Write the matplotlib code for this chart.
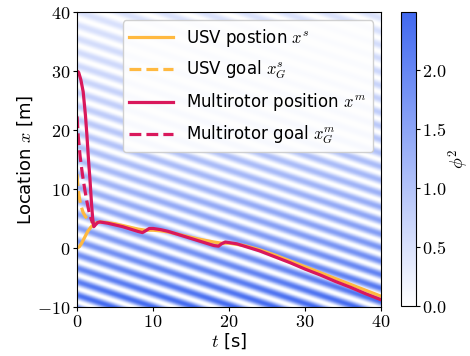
import numpy as np
import matplotlib.pyplot as plt
from matplotlib.colors import LinearSegmentedColormap

plt.rcParams['mathtext.fontset'] = 'cm'
plt.rcParams['font.family'] = ['DejaVu Sans']

# multirotor position
t_mr = [0, 0.2, 0.5, 0.8, 1.1, 1.3, 1.5, 1.7, 1.9, 2.05, 2.2, 2.4, 2.7, 3.0, 4, 5, 6, 7, 8,
        8.6, 9.0, 9.5, 10, 11, 12, 13, 14, 15, 16, 17, 18, 18.6, 19.0, 19.5, 20, 21, 22,
        24, 26, 28, 30, 32, 34, 36, 38, 40]
x_mr = [30, 29.8, 28.5, 26.5, 22.5, 19, 15, 11.5, 7.5, 5, 3.6, 3.9, 4.3, 4.4, 4.2, 3.9, 3.6, 3.2, 2.8,
        2.6, 2.9, 3.3, 3.3, 3.1, 2.8, 2.4, 2.0, 1.6, 1.2, 0.8, 0.4, 0.3, 0.7, 1.0, 0.9, 0.7, 0.3,
        -0.5, -1.5, -2.5, -3.6, -4.6, -5.7, -6.7, -7.8, -8.8]
# multirotor goal
t_mr_goal = [0, 0.15, 0.4, 0.7, 1.0, 1.3, 1.6, 1.9, 2.1]
x_mr_goal = [22.3, 19, 15.5, 12.5, 10, 7.8, 6, 4.7, 4.2]

# USV position
t_usv = [0, 0.3, 0.6, 1.0, 1.4, 1.8, 2.2, 2.6, 3, 4, 5, 6, 7, 8, 9, 10, 11, 12, 14, 16,
         18, 19, 20, 22, 24, 26, 28, 30, 32, 34, 36, 38, 40]
x_usv = [0, 0.2, 0.8, 1.8, 2.8, 3.5, 4.0, 4.3, 4.4, 4.3, 4.1, 3.8, 3.5, 3.2, 3.0, 3.0, 2.9, 2.7, 2.1, 1.5,
         1.0, 0.8, 0.8, 0.4, -0.3, -1.2, -2.2, -3.2, -4.2, -5.2, -6.2, -7.2, -8.2]
# USV goal
t_usv_goal = [0, 0.1, 0.3, 0.5, 0.8, 1.1, 1.4, 1.7, 2.0]
x_usv_goal = [12.5, 10.5, 8.5, 7.2, 6.0, 5.3, 4.9, 4.6, 4.4]

# wave field phi^2 (amplitude decays with height, travelling stripes)
k = 1.37
v = 0.43
amp2 = 2.49
decay = 30.0

tt = np.linspace(0, 40, 500)
xx = np.linspace(-10, 40, 500)
T, X = np.meshgrid(tt, xx)
phi2 = amp2 * np.exp(-(X + 10) / decay) * np.sin(k * (X + v * T)) ** 2

cmap = LinearSegmentedColormap.from_list('wb', ['#ffffff', '#4169f0'])

fig = plt.figure(figsize=(4.7, 3.56), dpi=100)
ax = fig.add_axes([0.164, 0.138, 0.647, 0.828])
cax = fig.add_axes([0.853, 0.14, 0.032, 0.826])

im = ax.imshow(phi2, extent=[0, 40, -10, 40], origin='lower', aspect='auto',
               cmap=cmap, vmin=0, vmax=amp2, interpolation='bilinear')

orange = '#ffb940'
red = '#d9185c'
ax.plot(t_usv, x_usv, color=orange, lw=2.3, label=r'USV postion $x^s$')
ax.plot(t_usv_goal, x_usv_goal, color=orange, lw=2.3, ls='--', label=r'USV goal $x^s_G$')
ax.plot(t_mr, x_mr, color=red, lw=2.3, label=r'Multirotor position $x^m$')
ax.plot(t_mr_goal, x_mr_goal, color=red, lw=2.3, ls='--', label=r'Multirotor goal $x^m_G$')

ax.set_xlim(0, 40)
ax.set_ylim(-10, 40)
xt = [0, 10, 20, 30, 40]
yt = [-10, 0, 10, 20, 30, 40]
ax.set_xticks(xt)
ax.set_xticklabels(['$%d$' % v_ for v_ in xt], fontsize=13)
ax.set_yticks(yt)
ax.set_yticklabels(['$%d$' % v_ for v_ in yt], fontsize=13)
ax.tick_params(length=3, pad=1.5)
ax.set_xlabel(r'$t$ [s]', fontsize=13, labelpad=0)
ax.set_ylabel(r'Location $x$ [m]', fontsize=13, labelpad=2)

ax.legend(loc='upper right', fontsize=12, handlelength=2.6, labelspacing=0.6,
          framealpha=0.9)

cb = fig.colorbar(im, cax=cax)
ct = [0.0, 0.5, 1.0, 1.5, 2.0]
cb.set_ticks(ct)
cb.set_ticklabels(['$%.1f$' % c for c in ct], fontsize=13)
cb.ax.tick_params(length=3, pad=1.5)
cb.set_label(r'$\phi^2$', fontsize=13, labelpad=0)
cb.outline.set_linewidth(0.8)

plt.savefig('out.png', dpi=100)
